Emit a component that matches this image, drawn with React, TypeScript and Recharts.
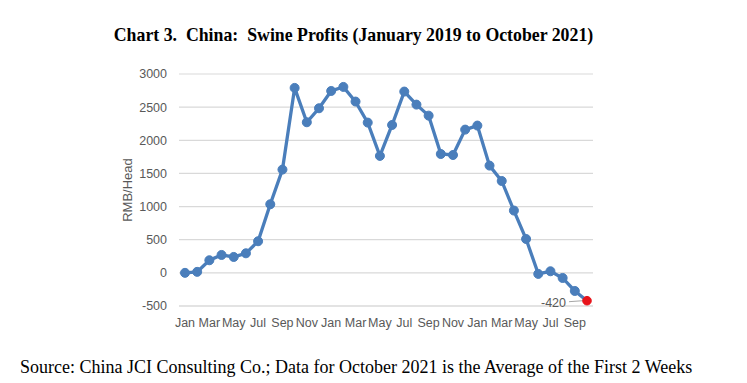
import React from "react";
import { LineChart, Line, XAxis, YAxis, CartesianGrid } from "recharts";

const months = ["Jan","Feb","Mar","Apr","May","Jun","Jul","Aug","Sep","Oct","Nov","Dec"];
const years = ["2019", "2020", "2021"];
const profits = [
  0, 15, 190, 270, 240, 295, 477, 1035, 1558, 2790, 2272, 2483,
  2744, 2805, 2584, 2267, 1764, 2231, 2735, 2538, 2372, 1793, 1778, 2161,
  2222, 1618, 1386, 940, 511, -16, 24, -77, -273, -420,
];
const yTicks = [-500, 0, 500, 1000, 1500, 2000, 2500, 3000];
const lastLabel = "-420";

const data = profits.map((v, i) => ({
  label: months[i % 12] + " " + years[Math.floor(i / 12)],
  value: v,
}));

const LINE = "#4a7ebb";
const GRID = "#d9d9d9";
const TEXT = "#595959";
const FONT = "'Liberation Sans', Arial, sans-serif";

const Dot = (props: any) => {
  const { cx, cy, index } = props;
  if (index === profits.length - 1) {
    return (
      <g key={"d" + index}>
        <line x1={cx - 18} y1={cy + 1} x2={cx - 4} y2={cy} stroke="#a6a6a6" strokeWidth={1} />
        <text x={cx - 21} y={cy + 6} textAnchor="end" fontSize={12.5} fill={TEXT} fontFamily={FONT}>
          {lastLabel}
        </text>
        <circle cx={cx} cy={cy} r={4.3} fill="#e8141b" stroke="#e8141b" strokeWidth={1} />
      </g>
    );
  }
  return <circle key={"d" + index} cx={cx} cy={cy} r={4.5} fill={LINE} stroke={LINE} strokeWidth={1} />;
};

export default function App() {
  return (
    <div style={{ position: "absolute", left: 0, top: 0, width: 747, height: 383, background: "#fff", overflow: "hidden" }}>
      <div
        style={{
          position: "absolute", left: 0, top: 25, width: 707, textAlign: "center",
          fontFamily: "'Liberation Serif', 'Times New Roman', serif", fontWeight: "bold",
          fontSize: 17.8, whiteSpace: "pre", color: "#000", lineHeight: "20px",
        }}
      >
        {"Chart 3.  China:  Swine Profits (January 2019 to October 2021)"}
      </div>
      <LineChart
        width={747}
        height={383}
        data={data}
        margin={{ top: 74, right: 154, bottom: 47, left: 110 }}
      >
        <CartesianGrid vertical={false} stroke={GRID} strokeWidth={1.2} />
        <XAxis
          dataKey="label"
          interval={1}
          tickFormatter={(v: string) => v.slice(0, 3)}
          axisLine={{ stroke: GRID, strokeWidth: 1.2 }}
          tickLine={false}
          tickSize={6}
          tickMargin={6}
          padding={{ left: 6, right: 6 }}
          tick={{ fontSize: 12.5, fill: TEXT, fontFamily: FONT }}
          height={30}
        />
        <YAxis
          domain={[-500, 3000]}
          ticks={yTicks}
          axisLine={false}
          tickLine={false}
          tickSize={6}
          tickMargin={6}
          width={69}
          tick={{ fontSize: 12.5, fill: TEXT, fontFamily: FONT }}
          label={{ value: "RMB/Head", angle: -90, position: "insideLeft", offset: 17, fontSize: 13, fill: TEXT, fontFamily: FONT, style: { textAnchor: "middle" } }}
        />
        <Line
          type="linear"
          dataKey="value"
          stroke={LINE}
          strokeWidth={3.3}
          dot={Dot}
          activeDot={false}
          isAnimationActive={false}
        />
      </LineChart>
      <div
        style={{
          position: "absolute", left: 20, top: 356, whiteSpace: "pre",
          fontFamily: "'Liberation Serif', 'Times New Roman', serif",
          fontSize: 18, color: "#000", lineHeight: "22px",
        }}
      >
        {"Source: China JCI Consulting Co.; Data for October 2021 is the Average of the First 2 Weeks"}
      </div>
    </div>
  );
}
